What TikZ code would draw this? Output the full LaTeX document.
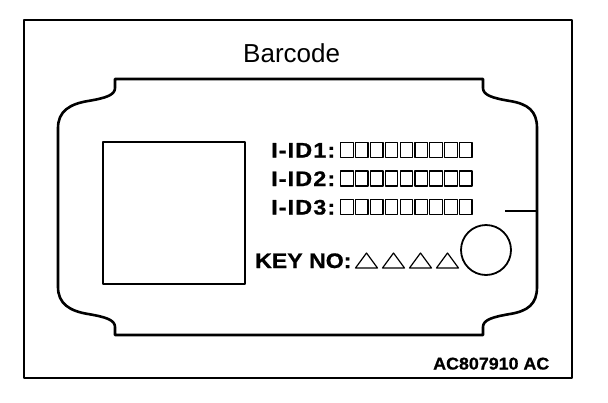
\documentclass[tikz,border=0pt]{standalone}
\usepackage{fontspec}
\setmainfont{Liberation Sans}
\newfontfamily\idfont[FakeStretch=1.12,LetterSpace=5,FakeBold=0.8]{Liberation Sans}
\newfontfamily\keyfont[FakeStretch=1.1,FakeBold=0.8]{Liberation Sans}
\newfontfamily\acfont[FakeStretch=1.05,FakeBold=0.8]{Liberation Sans}
\usetikzlibrary{positioning}

\begin{document}
\begin{tikzpicture}[x=1pt,y=-1pt,line join=round,
    frame/.style={line width=1.6pt},
    tag/.style={line width=2.6pt},
    cell/.style={line width=1.2pt},
    idtext/.style={anchor=base west,inner sep=0pt,
        font=\idfont\bfseries\fontsize{21}{21}\selectfont},
    ]
\useasboundingbox (0,0) rectangle (608,402);
\draw[frame] (24,20) rectangle (572,378);
% label outline
\draw[tag] (58,128) .. controls (58,111) and (70,104) .. (88,101)
    .. controls (106,98) and (115,95) .. (115,88) -- (115,79)
    -- (483,79) -- (483,88) .. controls (483,95) and (492,98) .. (510,101)
    .. controls (528,104) and (537,111) .. (537,128)
    -- (537,287) .. controls (537,304) and (528,311) .. (510,314)
    .. controls (492,317) and (483,320) .. (483,327) -- (483,335)
    -- (115,335) -- (115,327) .. controls (115,320) and (106,317) .. (88,314)
    .. controls (70,311) and (58,304) .. (58,287) -- cycle;
\node[anchor=base west,inner sep=0pt,font=\fontsize{26}{26}\selectfont] (title) at (243,62) {Barcode};
\node[draw,line width=2.2pt,minimum width=142pt,minimum height=142pt,inner sep=0pt] (code) at (173.6,213) {};
\node[idtext] (id1) at (271,157.5) {I-ID1:};
\node[idtext,below=28.5pt of id1.base west,anchor=base west] (id2) {I-ID2:};
\node[idtext,below=28.5pt of id2.base west,anchor=base west] (id3) {I-ID3:};
\foreach \yb in {157.5,186,214.5}
  \foreach \i in {0,...,8}
    \draw[cell] ({340.7+14.86*\i},\yb) rectangle +(12.5,-15);
\node[idtext,font=\keyfont\bfseries\fontsize{21}{21}\selectfont] (keyno) at (255,268) {KEY NO:};
\foreach \i in {0,...,3}
  \draw[cell] ({355.5+27*\i},268) -- +(22,0) -- +(11,-15) -- cycle;
\node[draw,circle,line width=1.8pt,minimum size=50pt,inner sep=0pt] (hole) at (486,250) {};
\coordinate (tick) at (505,211);
\coordinate (edge) at (537,211);
\draw[line width=2pt] (tick) -- (edge);
\node[anchor=base west,inner sep=0pt,font=\acfont\bfseries\fontsize{17}{17}\selectfont] (figno) at (433,369.5) {AC807910 AC};
\end{tikzpicture}
\end{document}
